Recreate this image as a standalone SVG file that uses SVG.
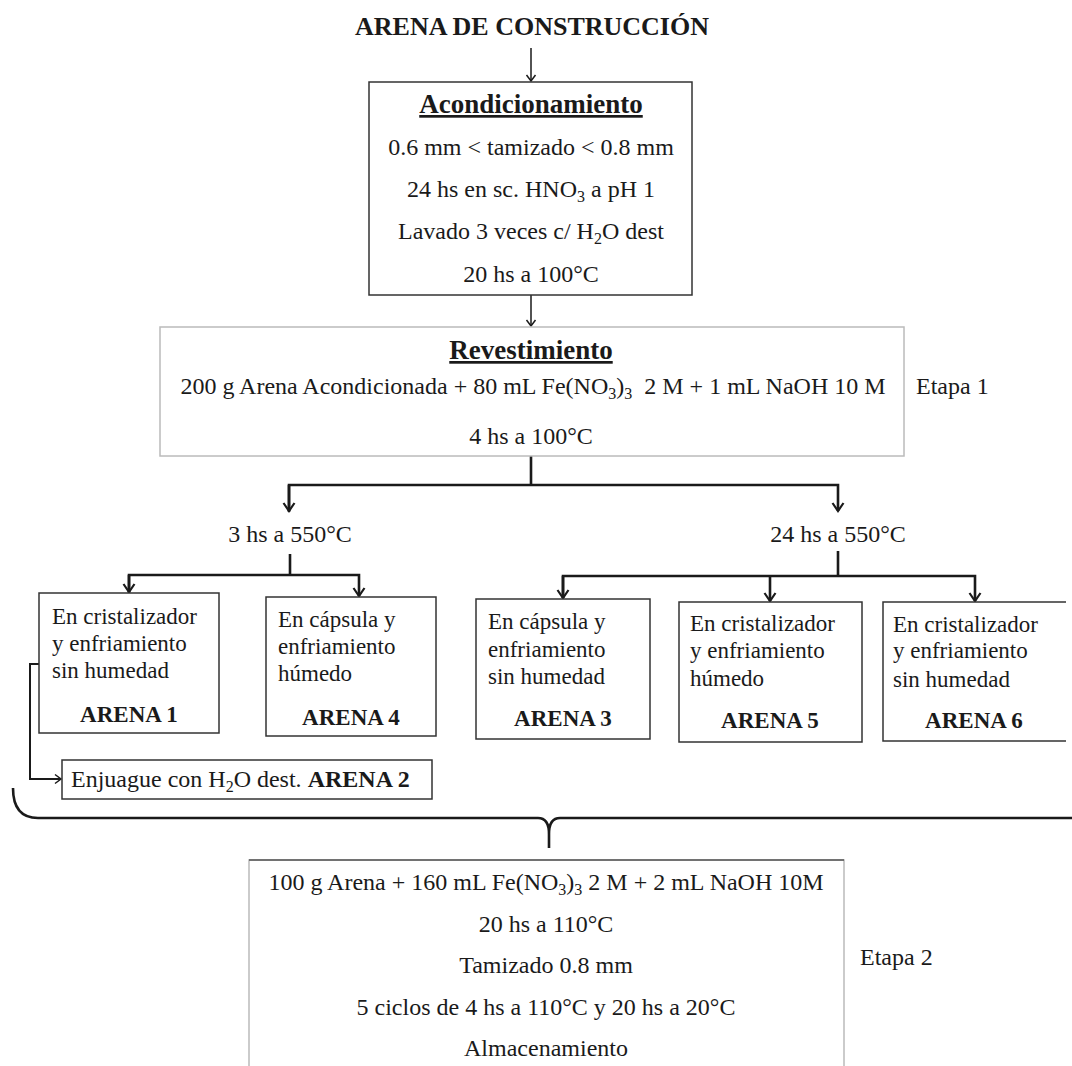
<svg xmlns="http://www.w3.org/2000/svg" width="1072" height="1066" viewBox="0 0 1072 1066">
<defs>
<style>
text{font-family:"Liberation Serif","Times New Roman",serif;fill:#1a1a1a;}
.t{font-size:26px;font-weight:bold;text-anchor:middle;}
.h{font-size:27px;font-weight:bold;text-anchor:middle;text-decoration:underline;}
.b{font-size:24px;text-anchor:middle;}
.s{font-size:23px;}
.sb{font-size:23px;font-weight:bold;text-anchor:middle;}
.l{font-size:24px;}
.dark{fill:#fff;stroke:#333;stroke-width:1.5;}
.light{fill:#fff;stroke:#bbb;stroke-width:1.5;}
.thin{fill:none;stroke:#1a1a1a;stroke-width:1.5;}
.thick{fill:none;stroke:#1a1a1a;stroke-width:2.6;}
</style>
<marker id="a1" markerWidth="14" markerHeight="14" refX="10" refY="7" orient="auto" markerUnits="userSpaceOnUse"><path d="M4,2.5 L10,7 L4,11.5" fill="none" stroke="#1a1a1a" stroke-width="1.5"/></marker>
<marker id="a2" markerWidth="16" markerHeight="16" refX="11" refY="8" orient="auto" markerUnits="userSpaceOnUse"><path d="M3,2.5 L11,8 L3,13.5" fill="none" stroke="#1a1a1a" stroke-width="2.2"/></marker>
</defs>

<g id="title"><text class="t" x="532" y="35">ARENA DE CONSTRUCCIÓN</text></g>

<g id="connectors">
<path class="thin" d="M531,48 V81" marker-end="url(#a1)"/>
<path class="thin" d="M531,295 V326" marker-end="url(#a1)"/>
<path class="thick" d="M531,456 V485"/>
<path class="thick" d="M289,512 V485 H838 V511" marker-end="url(#a2)"/>
<path class="thick" d="M289,485 V511" marker-end="url(#a2)"/>
<path class="thick" d="M290,554 V575"/>
<path class="thick" d="M129,593 V575 H359 V596" marker-end="url(#a2)"/>
<path class="thick" d="M129,575 V592" marker-end="url(#a2)"/>
<path class="thick" d="M838,551 V576"/>
<path class="thick" d="M563,598 V576 H975 V601" marker-end="url(#a2)"/>
<path class="thick" d="M563,576 V598" marker-end="url(#a2)"/>
<path class="thick" d="M770,576 V601" marker-end="url(#a2)"/>
<path class="thin" style="stroke-width:2" d="M39,664 H30 V779 H61" marker-end="url(#a1)"/>
<path class="thick" d="M13,788 Q13,818 38,818 H538 Q549,818 549,834 V848 M549,834 Q549,818 560,818 H1074"/>
</g>

<g id="acondicionamiento">
<rect class="dark" x="369" y="82" width="323" height="213"/>
<text class="h" x="531" y="113">Acondicionamiento</text>
<text class="b" x="531" y="155">0.6 mm &lt; tamizado &lt; 0.8 mm</text>
<text class="b" x="531" y="197">24 hs en sc. HNO<tspan font-size="16" dy="5">3</tspan><tspan dy="-5"> a pH 1</tspan></text>
<text class="b" x="531" y="239">Lavado 3 veces c/ H<tspan font-size="16" dy="5">2</tspan><tspan dy="-5">O dest</tspan></text>
<text class="b" x="531" y="282">20 hs a 100°C</text>
</g>

<g id="revestimiento">
<rect class="light" x="160" y="327" width="744" height="129"/>
<text class="h" x="531" y="359">Revestimiento</text>
<text class="b" x="533" y="394" style="white-space:pre">200 g Arena Acondicionada + 80 mL Fe(NO<tspan font-size="16" dy="5">3</tspan><tspan dy="-5">)</tspan><tspan font-size="16" dy="5">3</tspan><tspan dy="-5">  2 M + 1 mL NaOH 10 M</tspan></text>
<text class="b" x="531" y="444">4 hs a 100°C</text>
</g>

<g id="etapa1"><text class="l" x="916" y="394">Etapa 1</text></g>

<g id="t3"><text class="b" x="290" y="542">3 hs a 550°C</text></g>
<g id="t24"><text class="b" x="838" y="542">24 hs a 550°C</text></g>

<g id="arena1">
<rect class="dark" x="39" y="593" width="180" height="140"/>
<text class="s" x="52" y="624">En cristalizador</text>
<text class="s" x="52" y="651">y enfriamiento</text>
<text class="s" x="52" y="678">sin humedad</text>
<text class="sb" x="129" y="722">ARENA 1</text>
</g>

<g id="arena4">
<rect class="dark" x="266" y="597" width="170" height="139"/>
<text class="s" x="278" y="627">En cápsula y</text>
<text class="s" x="278" y="654">enfriamiento</text>
<text class="s" x="278" y="681">húmedo</text>
<text class="sb" x="351" y="725">ARENA 4</text>
</g>

<g id="arena3">
<rect class="dark" x="476" y="599" width="174" height="140"/>
<text class="s" x="488" y="629">En cápsula y</text>
<text class="s" x="488" y="657">enfriamiento</text>
<text class="s" x="488" y="684">sin humedad</text>
<text class="sb" x="563" y="726">ARENA 3</text>
</g>

<g id="arena5">
<rect class="dark" x="679" y="602" width="183" height="140"/>
<text class="s" x="690" y="631">En cristalizador</text>
<text class="s" x="690" y="658">y enfriamiento</text>
<text class="s" x="690" y="686">húmedo</text>
<text class="sb" x="770" y="728">ARENA 5</text>
</g>

<g id="arena6">
<path class="dark" style="fill:#fff" d="M1066,602 H883 V741 H1066"/>
<text class="s" x="893" y="632">En cristalizador</text>
<text class="s" x="893" y="658">y enfriamiento</text>
<text class="s" x="893" y="687">sin humedad</text>
<text class="sb" x="974" y="728">ARENA 6</text>
</g>

<g id="arena2">
<rect class="dark" x="62" y="760" width="370" height="39"/>
<text class="l" x="71" y="787">Enjuague con H<tspan font-size="16" dy="5">2</tspan><tspan dy="-5">O dest. </tspan><tspan font-weight="bold">ARENA 2</tspan></text>
</g>

<g id="etapa2box">
<path class="light" d="M249,1070 V860 H844 V1070"/>
<path d="M249,860 H844" stroke="#555" stroke-width="1.5" fill="none"/>
<text class="b" x="546" y="890">100 g Arena + 160 mL Fe(NO<tspan font-size="16" dy="5">3</tspan><tspan dy="-5">)</tspan><tspan font-size="16" dy="5">3</tspan><tspan dy="-5"> 2 M + 2 mL NaOH 10M</tspan></text>
<text class="b" x="546" y="932">20 hs a 110°C</text>
<text class="b" x="546" y="973">Tamizado 0.8 mm</text>
<text class="b" x="546" y="1015">5 ciclos de 4 hs a 110°C y 20 hs a 20°C</text>
<text class="b" x="546" y="1056">Almacenamiento</text>
</g>

<g id="etapa2"><text class="l" x="860" y="965">Etapa 2</text></g>
</svg>
